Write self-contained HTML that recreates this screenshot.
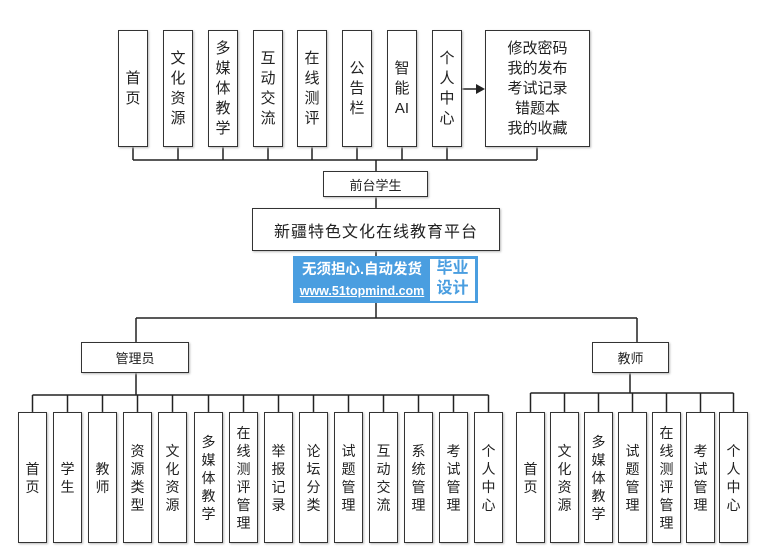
<!DOCTYPE html>
<html><head><meta charset="utf-8"><style>
body{margin:0;width:773px;height:560px;background:#fff;position:relative;overflow:hidden;font-family:"Liberation Sans","Noto Sans CJK SC",sans-serif;color:#222}
.b{position:absolute;border:1.5px solid #333;box-sizing:border-box;background:#fff;display:flex;flex-direction:column;align-items:center;justify-content:center;text-align:center;box-shadow:1px 1px 2px #bbb}
.v{font-size:15px;line-height:20px}
.s{font-size:14px;line-height:18px}
svg{position:absolute;left:0;top:0}
</style></head><body>
<svg width="773" height="560">
<g stroke="#222" stroke-width="1.5" fill="none">
<path d="M133 147V160M178 147V160M223 147V160M268 147V160M312 147V160M357 147V160M402 147V160M447 147V160M537 147V160M133 160H537M376 160V171M376 197V208M376 251V318M136 318H637M136 318V342M637 318V342"/>
<path d="M462 89H476"/>
<path d="M136 372V395M32.5 395H488.5M32.5 395V412M67.5 395V412M102.5 395V412M137.5 395V412M172.5 395V412M208.5 395V412M243.5 395V412M278.5 395V412M313.5 395V412M348.5 395V412M383.5 395V412M418.5 395V412M453.5 395V412M488.5 395V412"/>
<path d="M630 372V393M530.5 393H733.5M530.5 393V412M564.5 393V412M598.5 393V412M632.5 393V412M666.5 393V412M700.5 393V412M733.5 393V412"/>
</g>
<path d="M476 84L485 89L476 94Z" fill="#222"/>
</svg>
<div class="b v" style="left:118px;top:30px;width:30px;height:117px">首<br>页</div>
<div class="b v" style="left:163px;top:30px;width:30px;height:117px">文<br>化<br>资<br>源</div>
<div class="b v" style="left:208px;top:30px;width:30px;height:117px">多<br>媒<br>体<br>教<br>学</div>
<div class="b v" style="left:253px;top:30px;width:30px;height:117px">互<br>动<br>交<br>流</div>
<div class="b v" style="left:297px;top:30px;width:30px;height:117px">在<br>线<br>测<br>评</div>
<div class="b v" style="left:342px;top:30px;width:30px;height:117px">公<br>告<br>栏</div>
<div class="b v" style="left:387px;top:30px;width:30px;height:117px">智<br>能<br>AI</div>
<div class="b v" style="left:432px;top:30px;width:30px;height:117px">个<br>人<br>中<br>心</div>
<div class="b v" style="left:485px;top:30px;width:105px;height:117px">修改密码<br>我的发布<br>考试记录<br>错题本<br>我的收藏</div>
<div class="b" style="left:323px;top:171px;width:105px;height:26px;font-size:13px">前台学生</div>
<div class="b" style="left:252px;top:208px;width:248px;height:43px;font-size:16px;letter-spacing:1px">新疆特色文化在线教育平台</div>
<div style="position:absolute;left:293px;top:256px;width:185px;height:47px;background:#4a9ee0"></div>
<div style="position:absolute;left:296px;top:259px;width:132px;font-size:14.5px;font-weight:bold;color:#fff;text-align:center;line-height:22px">无须担心.自动发货</div>
<div style="position:absolute;left:296px;top:281px;width:132px;font-size:12.5px;font-weight:bold;color:#fff;text-align:center;line-height:20px;text-decoration:underline">www.51topmind.com</div>
<div style="position:absolute;left:430px;top:259px;width:45px;height:42px;background:#fff;color:#4a9ee0;font-size:16px;line-height:20px;text-align:center;font-weight:bold">毕业<br>设计</div>
<div class="b" style="left:81px;top:342px;width:108px;height:31px;font-size:13px">管理员</div>
<div class="b" style="left:592px;top:342px;width:77px;height:31px;font-size:13px">教师</div>
<div class="b s" style="left:18px;top:412px;width:29px;height:131px">首<br>页</div>
<div class="b s" style="left:53px;top:412px;width:29px;height:131px">学<br>生</div>
<div class="b s" style="left:88px;top:412px;width:29px;height:131px">教<br>师</div>
<div class="b s" style="left:123px;top:412px;width:29px;height:131px">资<br>源<br>类<br>型</div>
<div class="b s" style="left:158px;top:412px;width:29px;height:131px">文<br>化<br>资<br>源</div>
<div class="b s" style="left:194px;top:412px;width:29px;height:131px">多<br>媒<br>体<br>教<br>学</div>
<div class="b s" style="left:229px;top:412px;width:29px;height:131px">在<br>线<br>测<br>评<br>管<br>理</div>
<div class="b s" style="left:264px;top:412px;width:29px;height:131px">举<br>报<br>记<br>录</div>
<div class="b s" style="left:299px;top:412px;width:29px;height:131px">论<br>坛<br>分<br>类</div>
<div class="b s" style="left:334px;top:412px;width:29px;height:131px">试<br>题<br>管<br>理</div>
<div class="b s" style="left:369px;top:412px;width:29px;height:131px">互<br>动<br>交<br>流</div>
<div class="b s" style="left:404px;top:412px;width:29px;height:131px">系<br>统<br>管<br>理</div>
<div class="b s" style="left:439px;top:412px;width:29px;height:131px">考<br>试<br>管<br>理</div>
<div class="b s" style="left:474px;top:412px;width:29px;height:131px">个<br>人<br>中<br>心</div>
<div class="b s" style="left:516px;top:412px;width:29px;height:131px">首<br>页</div>
<div class="b s" style="left:550px;top:412px;width:29px;height:131px">文<br>化<br>资<br>源</div>
<div class="b s" style="left:584px;top:412px;width:29px;height:131px">多<br>媒<br>体<br>教<br>学</div>
<div class="b s" style="left:618px;top:412px;width:29px;height:131px">试<br>题<br>管<br>理</div>
<div class="b s" style="left:652px;top:412px;width:29px;height:131px">在<br>线<br>测<br>评<br>管<br>理</div>
<div class="b s" style="left:686px;top:412px;width:29px;height:131px">考<br>试<br>管<br>理</div>
<div class="b s" style="left:719px;top:412px;width:29px;height:131px">个<br>人<br>中<br>心</div>
</body></html>
